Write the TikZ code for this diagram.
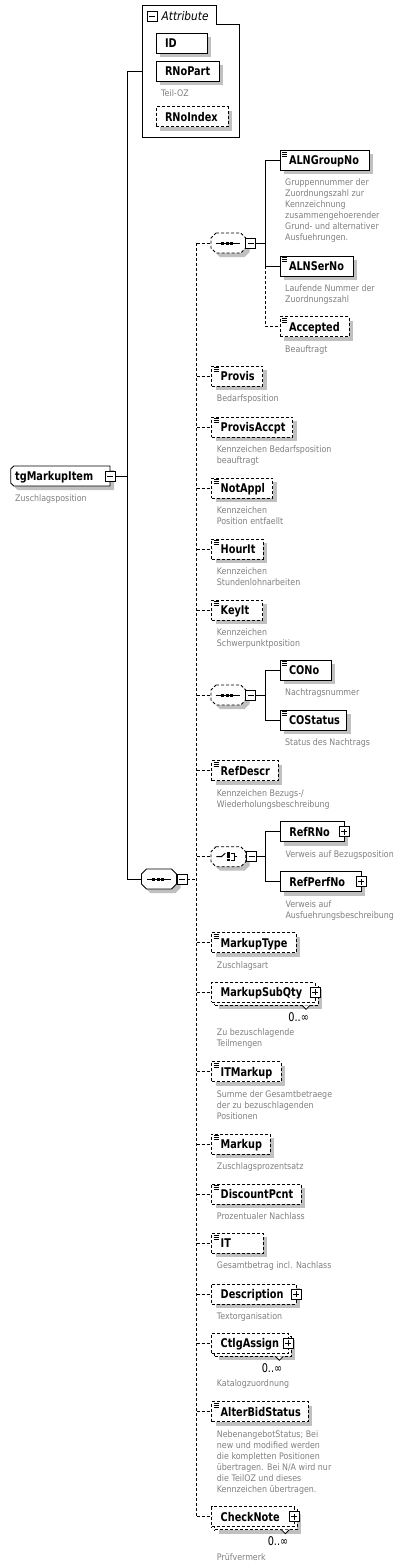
\documentclass[tikz,border=0pt]{standalone}
\usepackage{fontspec}
\setmainfont{DejaVu Sans}
\newfontfamily\nmfont[FakeStretch=0.81]{DejaVu Sans}
\newfontfamily\atfont[FakeStretch=0.88]{DejaVu Sans}
\newfontfamily\dsfont[FakeStretch=0.88]{DejaVu Sans}
\usetikzlibrary{shadows,backgrounds}
\definecolor{shcol}{RGB}{192,192,192}
\definecolor{dscol}{RGB}{128,128,128}
\newcommand\NBox[2]{\makebox[#1pt][l]{\hspace{9pt}#2}}
\newcommand\OctOutline[3]{%
  \path[#3] ([xshift=#2pt]#1.north west) -- ([xshift=-#2pt]#1.north east) -- ([yshift=-#2pt]#1.north east) -- ([yshift=#2pt]#1.south east) -- ([xshift=-#2pt]#1.south east) -- ([xshift=#2pt]#1.south west) -- ([yshift=#2pt]#1.south west) -- ([yshift=-#2pt]#1.north west) -- cycle;}
\newcommand\RootOutline[2]{%
  \path[#2] (#1.north east) -- (#1.south east) -- ([xshift=3pt]#1.south west) -- ([yshift=3pt]#1.south west) -- ([yshift=-3pt]#1.north west) -- ([xshift=3pt]#1.north west) -- cycle;}
\newcommand\Icon[1]{\foreach \k in {1.6,3.6,5.6}{\draw[line width=0.6pt] ([shift={(1.8,\k)}]#1.north west) -- ++(5.4,0);}}
\newcommand\SeqIcon[1]{%
  \draw[line width=1pt] ([xshift=-12.5pt]#1.center) -- ([xshift=12pt]#1.center);
  \foreach \dx in {-5.5,-1,3.5}{\fill ([shift={(\dx-1.5,-1.5)}]#1.center) rectangle ++(3,3);}}
\newcommand\ChoiceIcon[1]{%
  \draw[line width=1pt] ([xshift=-12pt]#1.center) -- ([xshift=-7pt]#1.center) -- ([shift={(-3,-3.5)}]#1.center);
  \foreach \dy in {-3.2,0,3.2}{\fill ([shift={(-1.6,\dy-1.4)}]#1.center) rectangle ++(3.2,2.8);}
  \draw[line width=0.9pt] ([shift={(2.5,-3.5)}]#1.center) -- ++(3.5,0) -- ++(0,7) -- ++(-3.5,0) ([shift={(6,0)}]#1.center) -- ++(3,0);}
\tikzset{
  nmfnt/.style={font=\nmfont\fontsize{12}{14}\selectfont\bfseries},
  ebox/.style={draw, line width=0.9pt, fill=white, inner sep=0pt, outer sep=0pt, minimum height=20pt, text height=9.9pt, text depth=1.1pt, anchor=west, nmfnt},
  elem/.style={ebox, general shadow={fill=shcol, shadow xshift=4pt, shadow yshift=-4pt}},
  opt/.style={dash pattern=on 3pt off 2pt},
  desc/.style={anchor=north west, inner sep=0pt, align=left, text=dscol, font=\dsfont\fontsize{9}{11}\selectfont},
  pmbox/.style={draw, line width=0.8pt, fill=white, minimum size=10pt, inner sep=0pt, outer sep=0pt},
  minusbox/.style={pmbox, path picture={\draw[line width=0.8pt] ([xshift=2pt]path picture bounding box.west) -- ([xshift=-2pt]path picture bounding box.east);}},
  plusbox/.style={pmbox, path picture={\draw[line width=0.8pt] ([xshift=2pt]path picture bounding box.west) -- ([xshift=-2pt]path picture bounding box.east) ([yshift=2pt]path picture bounding box.south) -- ([yshift=-2pt]path picture bounding box.north);}},
  conn/.style={line width=0.9pt},
  dconn/.style={line width=0.9pt, dash pattern=on 3pt off 2pt},
  comp/.style={inner sep=0pt, outer sep=0pt, minimum height=20pt, anchor=west},
  occ/.style={font=\nmfont\fontsize{12}{14}\selectfont, inner sep=0pt},
  notch/.style={line width=0.8pt, fill=white},
}
\begin{document}
\begin{tikzpicture}[x=1pt,y=-1pt]
\useasboundingbox (0,0) rectangle (408,1567);

% ---------- root ----------
\node[comp, text height=9.9pt, text depth=1.1pt, nmfnt] (root) at (10.7,476) {\makebox[99.3pt][l]{\hspace{4.5pt}tgMarkupItem}};
\node[minusbox] (rootm) at (110,476) {};
\node[desc] (rootd) at ([shift={(4.3,8)}]root.south west) {Zuschlagsposition};

% ---------- attribute group ----------
\draw[line width=0.9pt] (142.3,5.3) -- (216,5.3) -- (216,24.3) -- (239.3,24.3) -- (239.3,137) -- (142.3,137) -- cycle;
\node[minusbox] (attrm) at (152,16) {};
\node[anchor=west, inner sep=0pt, font=\atfont\fontsize{12}{14}\selectfont\itshape] (attrt) at (161.5,16) {Attribute};
\node[elem] (id) at (156,43.3) {\NBox{51}{ID}};
\node[elem] (rnopart) at (156,71) {\NBox{63}{RNoPart}};
\node[desc] (rnopartd) at ([shift={(5,8.5)}]rnopart.south west) {Teil-OZ};
\node[elem,opt] (rnoindex) at (156,116.7) {\NBox{72}{RNoIndex}};

% ---------- main sequence ----------
\node[comp, minimum width=35pt] (seq0) at (141.5,879) {};
\node[minusbox] (seq0m) at (182.3,879) {};

% ---------- sequence 1 ----------
\node[comp, minimum width=34.7pt] (seq1) at (211,243) {};
\node[minusbox] (seq1m) at (250.7,243) {};
\node[elem] (alngroupno) at (280,160.3) {\NBox{89}{ALNGroupNo}};
\node[desc] (alngroupnod) at ([shift={(5,8.5)}]alngroupno.south west) {Gruppennummer der\\Zuordnungszahl zur\\Kennzeichnung\\zusammengehoerender\\Grund- und alternativer\\Ausfuehrungen.};
\node[elem] (alnserno) at (280,266) {\NBox{73}{ALNSerNo}};
\node[desc] (alnsernod) at ([shift={(5,8.5)}]alnserno.south west) {Laufende Nummer der\\Zuordnungszahl};
\node[elem,opt] (accepted) at (280,326.7) {\NBox{69}{Accepted}};
\node[desc] (acceptedd) at ([shift={(5,8.5)}]accepted.south west) {Beauftragt};

% ---------- spine children ----------
\node[elem,opt] (provis) at (211.7,376) {\NBox{51}{Provis}};
\node[desc] (provisd) at ([shift={(5,8.5)}]provis.south west) {Bedarfsposition};
\node[elem,opt] (provisaccpt) at (211.7,427) {\NBox{81}{ProvisAccpt}};
\node[desc] (provisaccptd) at ([shift={(5,8.5)}]provisaccpt.south west) {Kennzeichen Bedarfsposition\\beauftragt};
\node[elem,opt] (notappl) at (211.7,488) {\NBox{61}{NotAppl}};
\node[desc] (notappld) at ([shift={(5,8.5)}]notappl.south west) {Kennzeichen\\Position entfaellt};
\node[elem,opt] (hourit) at (211.7,549) {\NBox{51.3}{HourIt}};
\node[desc] (houritd) at ([shift={(5,8.5)}]hourit.south west) {Kennzeichen\\Stundenlohnarbeiten};
\node[elem,opt] (keyit) at (211.7,610) {\NBox{51}{KeyIt}};
\node[desc] (keyitd) at ([shift={(5,8.5)}]keyit.south west) {Kennzeichen\\Schwerpunktposition};

\node[comp, minimum width=34.7pt] (seq2) at (211,695) {};
\node[minusbox] (seq2m) at (250.7,695) {};
\node[elem] (cono) at (280,670) {\NBox{51}{CONo}};
\node[desc] (conod) at ([shift={(5,8.5)}]cono.south west) {Nachtragsnummer};
\node[elem] (costatus) at (280,720) {\NBox{66.7}{COStatus}};
\node[desc] (costatusd) at ([shift={(5,8.5)}]costatus.south west) {Status des Nachtrags};

\node[elem,opt] (refdescr) at (211.7,770.7) {\NBox{66.6}{RefDescr}};
\node[desc] (refdescrd) at ([shift={(5,8.5)}]refdescr.south west) {Kennzeichen Bezugs-/\\Wiederholungsbeschreibung};

\node[comp, minimum width=34.7pt] (choice) at (211,856.7) {};
\node[minusbox] (choicem) at (251.7,856.7) {};
\node[elem] (refrno) at (280.3,831.7) {\NBox{64}{RefRNo}};
\node[plusbox] (refrnop) at (refrno.east) {};
\node[desc] (refrnod) at ([shift={(5,8.5)}]refrno.south west) {Verweis auf Bezugsposition};
\node[elem] (refperfno) at (280.3,881.7) {\NBox{80.7}{RefPerfNo}};
\node[plusbox] (refperfnop) at (refperfno.east) {};
\node[desc] (refperfnod) at ([shift={(5,8.5)}]refperfno.south west) {Verweis auf\\Ausfuehrungsbeschreibung};

\node[elem,opt] (markuptype) at (211.7,942.7) {\NBox{84.3}{MarkupType}};
\node[desc] (markuptyped) at ([shift={(5,8.5)}]markuptype.south west) {Zuschlagsart};

\node[elem,opt] (msqb) at (214.7,995.3) {\NBox{103.3}{}};
\draw[notch] ([xshift=-16pt]msqb.south east) -- ++(4,4) -- ++(4,-4);
\node[ebox,opt] (msq) at (211.7,992.3) {\NBox{103.3}{MarkupSubQty}};
\node[plusbox] (msqp) at (msq.east) {};
\node[occ] (msqo) at ([shift={(-19.3,11.7)}]msqb.south east) {0..∞};
\node[desc] (msqd) at ([shift={(5,26.5)}]msq.south west) {Zu bezuschlagende\\Teilmengen};

\node[elem,opt] (itmarkup) at (211.7,1071.7) {\NBox{69.3}{ITMarkup}};
\node[desc] (itmarkupd) at ([shift={(5,8.5)}]itmarkup.south west) {Summe der Gesamtbetraege\\der zu bezuschlagenden\\Positionen};
\node[elem,opt] (markup) at (211.7,1144) {\NBox{58.3}{Markup}};
\node[desc] (markupd) at ([shift={(5,8.5)}]markup.south west) {Zuschlagsprozentsatz};
\node[elem,opt] (discountpcnt) at (211.7,1194) {\NBox{89.3}{DiscountPcnt}};
\node[desc] (discountpcntd) at ([shift={(5,8.5)}]discountpcnt.south west) {Prozentualer Nachlass};
\node[elem,opt] (it) at (211.7,1243.3) {\NBox{51.6}{IT}};
\node[desc] (itd) at ([shift={(5,8.5)}]it.south west) {Gesamtbetrag incl. Nachlass};
\node[elem,opt] (description) at (211.7,1294) {\NBox{84.3}{Description}};
\node[plusbox] (descriptionp) at (description.east) {};
\node[desc] (descriptiond) at ([shift={(5,8.5)}]description.south west) {Textorganisation};

\node[elem,opt] (ctlgb) at (214.7,1346.3) {\NBox{76.6}{}};
\draw[notch] ([xshift=-16pt]ctlgb.south east) -- ++(4,4) -- ++(4,-4);
\node[ebox,opt] (ctlg) at (211.7,1343.3) {\NBox{76.6}{CtlgAssign}};
\node[plusbox] (ctlgp) at (ctlg.east) {};
\node[occ] (ctlgo) at ([shift={(-19.3,11.7)}]ctlgb.south east) {0..∞};
\node[desc] (ctlgd) at ([shift={(5,26.5)}]ctlg.south west) {Katalogzuordnung};

\node[elem,opt] (alterbid) at (211.7,1411.7) {\NBox{96.6}{AlterBidStatus}};
\node[desc] (alterbidd) at ([shift={(5,8.5)}]alterbid.south west) {NebenangebotStatus; Bei\\new und modified werden\\die kompletten Positionen\\übertragen. Bei N/A wird nur\\die TeilOZ und dieses\\Kennzeichen übertragen.};

\node[elem,opt] (checkb) at (214.7,1519.7) {\NBox{82.6}{}};
\draw[notch] ([xshift=-16pt]checkb.south east) -- ++(4,4) -- ++(4,-4);
\node[ebox,opt] (check) at (211.7,1516.7) {\NBox{82.6}{CheckNote}};
\node[plusbox] (checkp) at (check.east) {};
\node[occ] (checko) at ([shift={(-19.3,11.7)}]checkb.south east) {0..∞};
\node[desc] (checkd) at ([shift={(5,26.5)}]check.south west) {Prüfvermerk};

% ---------- compositor outlines ----------
\begin{pgfonlayer}{background}
  \fill[white] (0,0) rectangle (408,1567);
  \RootOutline{root}{fill=shcol, transform canvas={shift={(4pt,-4pt)}}}
  \RootOutline{root}{draw, fill=white, line width=0.9pt}
  \OctOutline{seq0}{5}{fill=shcol, transform canvas={shift={(4pt,-4pt)}}}
  \OctOutline{seq0}{5}{draw, fill=white, line width=0.9pt}
  \OctOutline{seq1}{5}{fill=shcol, transform canvas={shift={(4pt,-4pt)}}}
  \OctOutline{seq1}{5}{draw, fill=white, line width=0.9pt, opt}
  \OctOutline{seq2}{5}{fill=shcol, transform canvas={shift={(4pt,-4pt)}}}
  \OctOutline{seq2}{5}{draw, fill=white, line width=0.9pt, opt}
  \OctOutline{choice}{5}{fill=shcol, transform canvas={shift={(4pt,-4pt)}}}
  \OctOutline{choice}{5}{draw, fill=white, line width=0.9pt, opt}
\end{pgfonlayer}
\SeqIcon{seq0}
\SeqIcon{seq1}
\SeqIcon{seq2}
\ChoiceIcon{choice}

% ---------- simple-content icons ----------
\foreach \n in {alngroupno,alnserno,accepted,provis,provisaccpt,notappl,hourit,keyit,cono,costatus,refdescr,markuptype,itmarkup,markup,discountpcnt,it,alterbid}{\Icon{\n}}

% ---------- connectors ----------
\coordinate (attrL) at (142.3,71);
\coordinate (j0) at (127.7,476);
\coordinate (sT) at (196.7,243);
\coordinate (sB) at (196.7,1516.7);
\coordinate (j1) at (265.7,243);
\coordinate (j2) at (265.7,695);
\coordinate (j3) at (265.7,856.7);
\draw[conn] (rootm.east) -- (j0);
\draw[conn] (attrL) -| (j0) |- (seq0.west);
\draw[dconn] (seq0m.east) -- (seq0m.east -| sT);
\draw[dconn] (sT) -- (sB);
\foreach \n in {seq1,provis,provisaccpt,notappl,hourit,keyit,seq2,refdescr,choice,markuptype,msq,itmarkup,markup,discountpcnt,it,description,ctlg,alterbid,check}{\draw[dconn] (\n.west -| sT) -- (\n.west);}
\draw[conn] (seq1m.east) -- (j1);
\draw[conn] (alngroupno.west) -| (j1) |- (alnserno.west);
\draw[dconn] (alnserno.west -| j1) |- (accepted.west);
\draw[conn] (seq2m.east) -- (j2);
\draw[conn] (cono.west) -| (j2) |- (costatus.west);
\draw[conn] (choicem.east) -- (j3);
\draw[conn] (refrno.west) -| (j3) |- (refperfno.west);
\end{tikzpicture}
\end{document}
